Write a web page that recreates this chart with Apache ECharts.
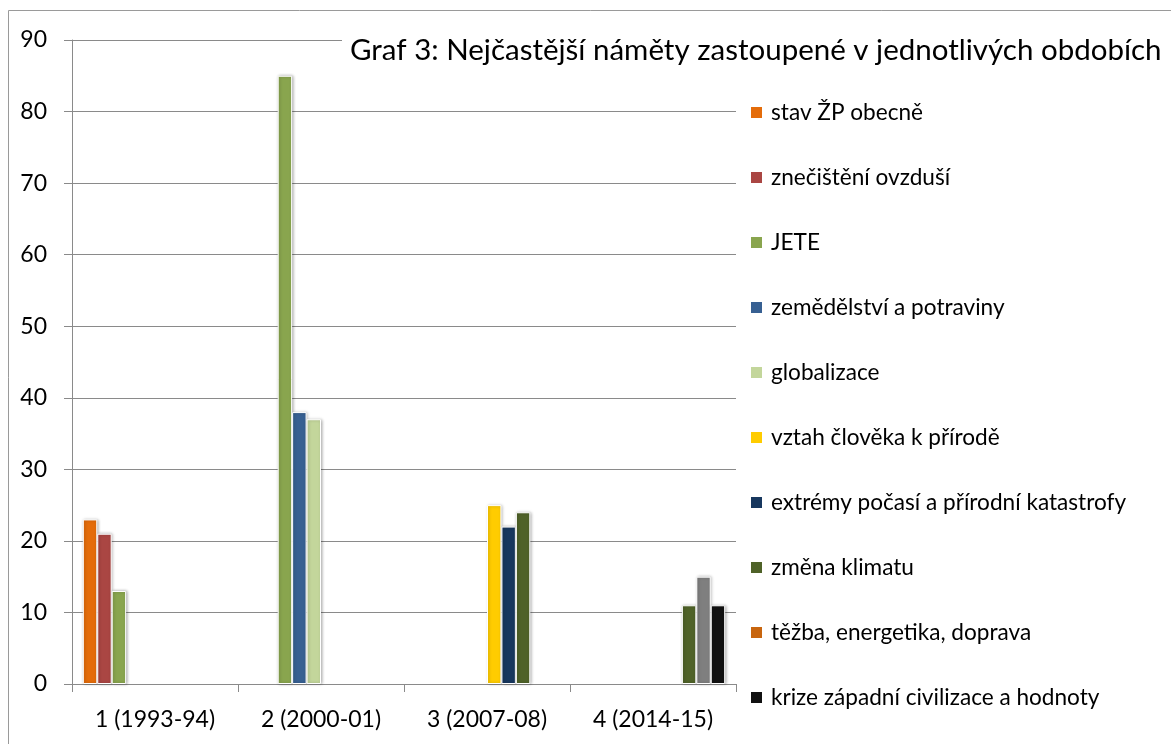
<!DOCTYPE html>
<html>
<head>
<meta charset="utf-8">
<script src="https://cdn.jsdelivr.net/npm/echarts@6/dist/echarts.min.js"></script>
<style>
html,body{margin:0;padding:0;background:#fff;}
#chart{width:1171px;height:744px;}
</style>
</head>
<body>
<div id="chart"></div>
<script>
// ---- data ----
const categories = ['1 (1993-94)', '2 (2000-01)', '3 (2007-08)', '4 (2014-15)'];
const seriesNames = [
  'stav ŽP obecně',
  'znečištění ovzduší',
  'JETE',
  'zemědělství a potraviny',
  'globalizace',
  'vztah člověka k přírodě',
  'extrémy počasí a přírodní katastrofy',
  'změna klimatu',
  'těžba, energetika, doprava',
  'krize západní civilizace a hodnoty'
];
const stavZP        = [23, null, null, null];
const znecisteni    = [21, null, null, null];
const jete          = [13, 85, null, null];
const zemedelstvi   = [null, 38, null, null];
const globalizace   = [null, 37, null, null];
const vztah         = [null, null, 25, null];
const extremy       = [null, null, 22, null];
const zmenaKlimatu  = [null, null, 24, 11];
const tezba         = [null, null, null, 15];
const krize         = [null, null, null, 11];
const yTicks = [0, 10, 20, 30, 40, 50, 60, 70, 80, 90];
const titleText = 'Graf 3: Nejčastější náměty zastoupené v jednotlivých obdobích';

// ---- styles ----
const seriesValues = [stavZP, znecisteni, jete, zemedelstvi, globalizace, vztah, extremy, zmenaKlimatu, tezba, krize];
const colors = ['#E46C0A', '#AA4643', '#89A54E', '#376092', '#C3D69B', '#FFCC00', '#17375E', '#4F6228', '#C8650E', '#111111'];
const pointOverride = { 8: '#7F7F7F' }; // series index -> bar colour (legend keeps series colour)
const FONT = 'Lato';
const gridColor = '#8A8A8A';

const series = seriesValues.map((vals, i) => ({
  name: seriesNames[i],
  type: 'bar',
  barGap: '0%',
  barCategoryGap: '13.04%',
  data: vals.map(v => (v == null ? null : (pointOverride[i] ? { value: v, itemStyle: { color: pointOverride[i] } } : v))),
  itemStyle: {
    color: colors[i],
    borderColor: '#ffffff',
    borderWidth: 1,
    shadowColor: 'rgba(0,0,0,0.28)',
    shadowBlur: 3,
    shadowOffsetX: 1,
    shadowOffsetY: 0
  },
  emphasis: { disabled: true }
}));

const chart = echarts.init(document.getElementById('chart'), null, { renderer: 'canvas' });
chart.setOption({
  animation: false,
  backgroundColor: '#ffffff',
  color: colors,
  textStyle: { fontFamily: FONT },
  graphic: [{
    type: 'rect',
    shape: { x: 8.5, y: 10.5, width: 1300, height: 900 },
    style: { fill: 'none', stroke: '#9A9A9A', lineWidth: 1 },
    silent: true
  }],
  title: {
    text: titleText,
    left: 342,
    top: 31,
    padding: [4, 8, 4, 8],
    backgroundColor: '#ffffff',
    textStyle: { fontFamily: FONT, fontSize: 29.5, fontWeight: 'normal', color: '#000000' }
  },
  legend: {
    orient: 'vertical',
    left: 749,
    top: 101,
    padding: 0,
    itemGap: 42,
    itemWidth: 13,
    itemHeight: 13,
    icon: 'rect',
    selectedMode: false,
    data: seriesNames,
    textStyle: { fontFamily: FONT, fontSize: 22.6, lineHeight: 23, color: '#000000', padding: [0, 0, 0, 3] }
  },
  grid: { left: 72, right: 435, top: 40, bottom: 60, containLabel: false },
  xAxis: {
    type: 'category',
    data: categories,
    axisLine: { lineStyle: { color: gridColor, width: 1 } },
    axisTick: { show: true, length: 8, lineStyle: { color: gridColor } },
    axisLabel: { margin: 24, fontFamily: FONT, fontSize: 23, color: '#000000' }
  },
  yAxis: {
    type: 'value',
    min: yTicks[0],
    max: yTicks[yTicks.length - 1],
    interval: yTicks[1] - yTicks[0],
    axisLine: { show: true, lineStyle: { color: gridColor, width: 1 } },
    axisTick: { show: true, length: 8, lineStyle: { color: gridColor } },
    splitLine: { show: true, lineStyle: { color: gridColor, width: 1 } },
    axisLabel: { margin: 25, fontFamily: FONT, fontSize: 23, color: '#000000' }
  },
  series: series
});
</script>
</body>
</html>
